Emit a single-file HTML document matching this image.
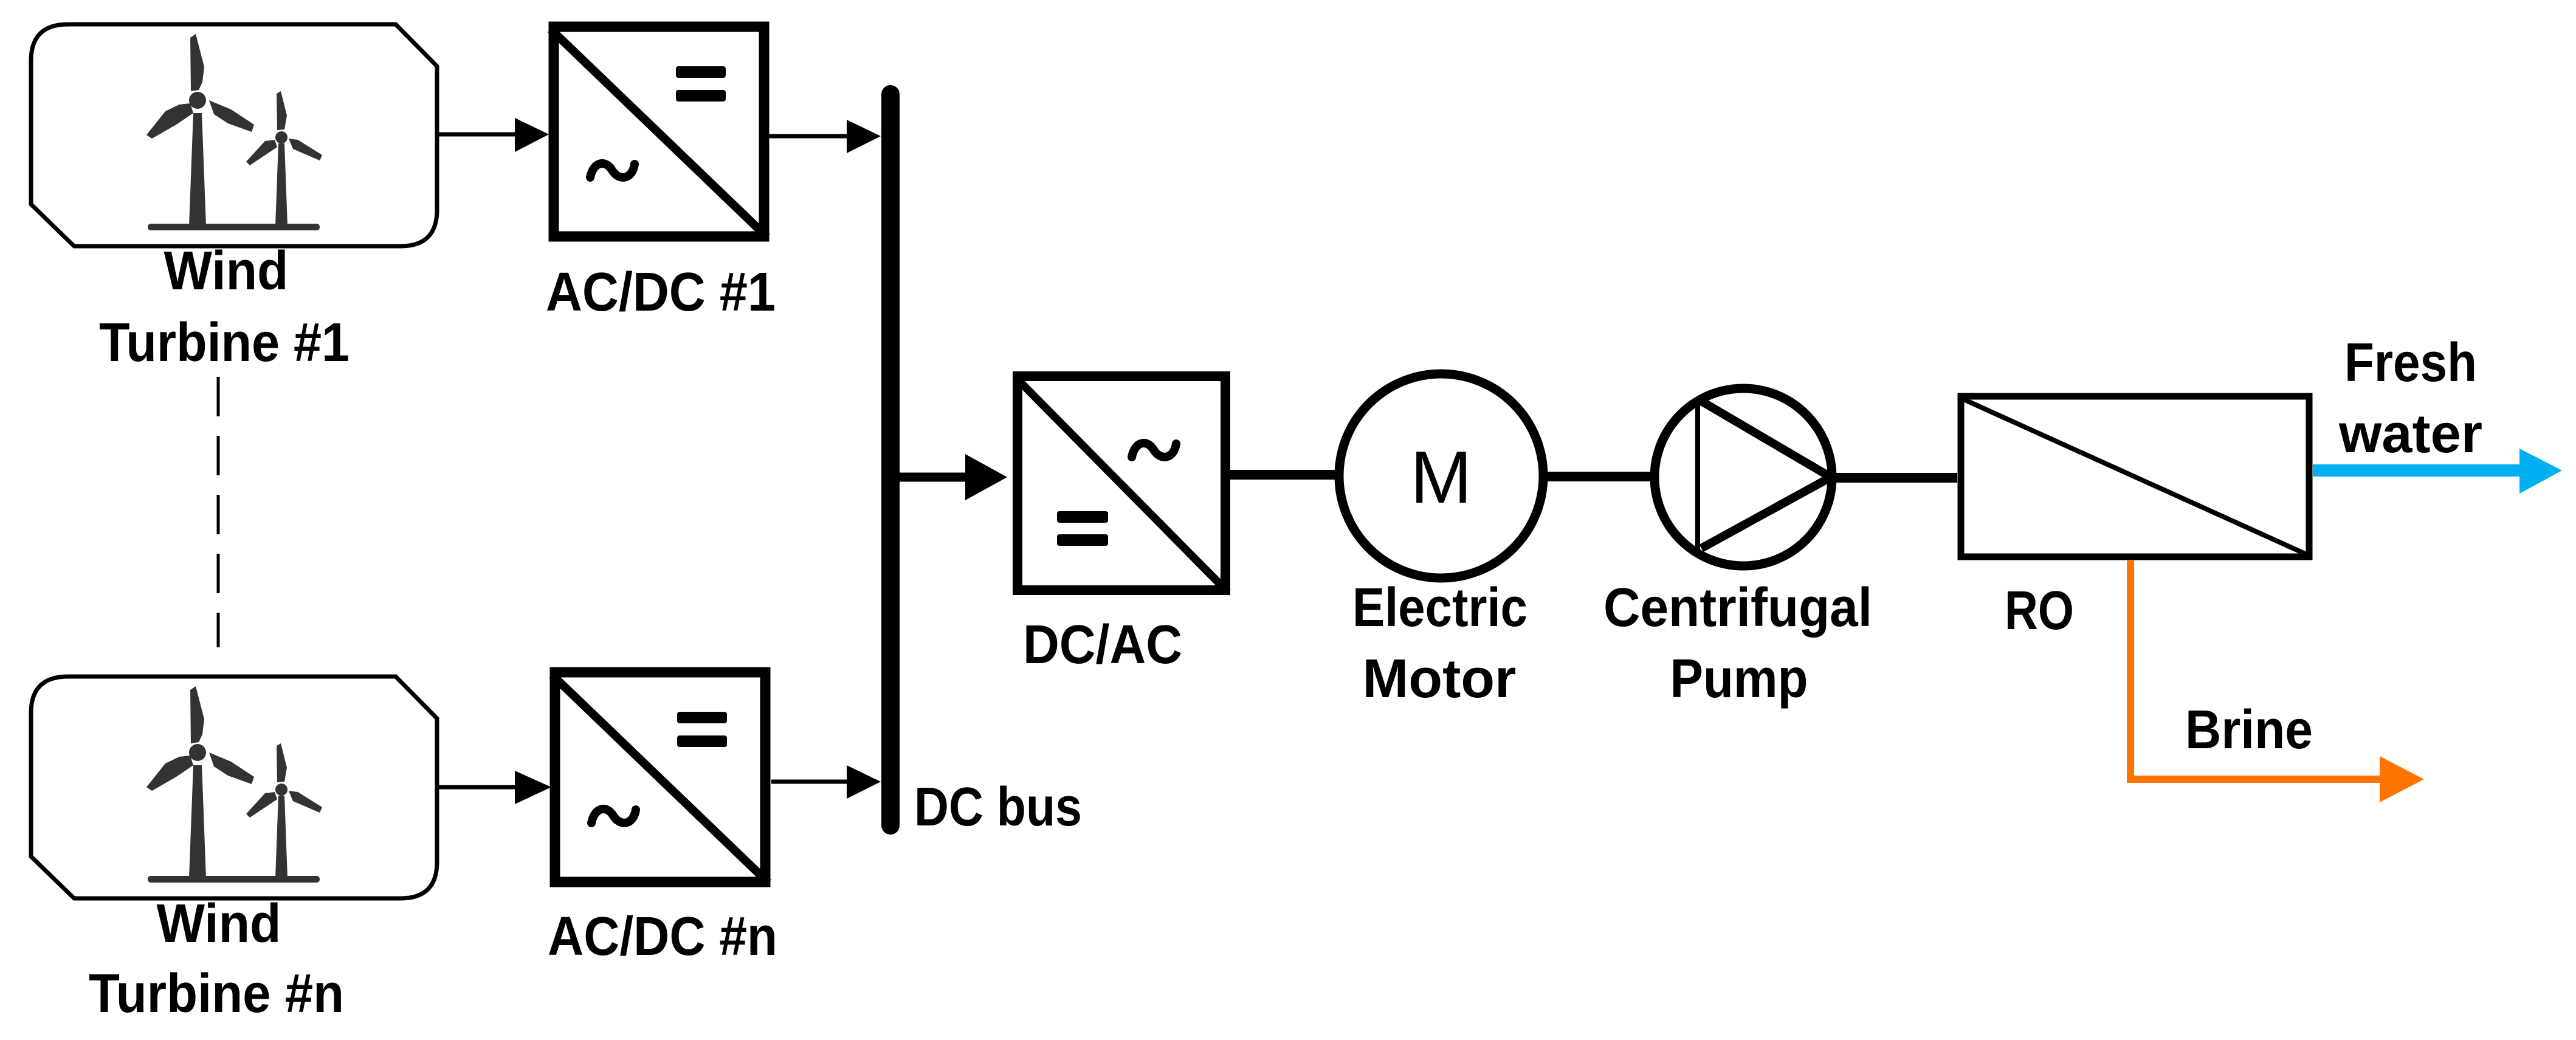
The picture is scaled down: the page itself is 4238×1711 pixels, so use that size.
<!DOCTYPE html>
<html><head><meta charset="utf-8"><style>html,body{margin:0;padding:0;background:#fff}svg{display:block}</style></head>
<body>
<svg width="4238" height="1711" viewBox="0 0 4238 1711" xmlns="http://www.w3.org/2000/svg" font-family="'Liberation Sans', sans-serif" font-weight="bold">
<defs>
<g id="wt">
<path d="M112,40 H651 L719,109 V345 Q719,405 659,405 H122 L51,336 V100 Q51,40 112,40 Z" fill="#fff" stroke="#000" stroke-width="7"/>
<g fill="#333">
<polygon points="318,186 332,186 339,372 311,372"/>
<circle cx="325" cy="165" r="14"/>
<polygon points="314,150 313,62 322,56 336,110 333,135 327,148"/>
<polygon points="313,170 295,172 272,183 241,222 250,228 290,205 318,186"/>
<polygon points="344,165 352,188 375,203 414,217 418,205 380,180"/>
<polygon points="458,236 468,236 473,372 453,372"/>
<circle cx="463" cy="226" r="10"/>
<polygon points="456,214 455,154 462,150 472,190 468,213"/>
<polygon points="452,230 436,232 405,266 411,272 456,242"/>
<polygon points="475,228 482,245 526,264 530,255 490,230"/>
<rect x="243" y="368" width="283" height="11" rx="5"/>
</g>
</g>
<g id="acdc">
<rect x="911" y="44" width="346" height="345" fill="#fff" stroke="#000" stroke-width="17"/>
<line x1="906" y1="48" x2="1262" y2="390" stroke="#000" stroke-width="14"/>
<rect x="1112" y="109" width="82" height="19" rx="4"/>
<rect x="1112" y="148" width="82" height="19" rx="4"/>
<path d="M971,292 C976,266 996,262 1007,280 C1018,298 1040,296 1044,270" fill="none" stroke="#000" stroke-width="14" stroke-linecap="round"/>
</g>
</defs>

<use href="#wt"/>
<use href="#wt" transform="translate(0,1073)"/>
<use href="#acdc"/>
<use href="#acdc" transform="translate(2,1062)"/>

<line x1="719" y1="221" x2="850" y2="221" stroke="#000" stroke-width="7"/>
<polygon points="847,194 903,221 847,250"/>
<line x1="1265" y1="224" x2="1395" y2="224" stroke="#000" stroke-width="7"/>
<polygon points="1393,197 1449,224 1393,252"/>
<line x1="719" y1="1295" x2="850" y2="1295" stroke="#000" stroke-width="7"/>
<polygon points="847,1268 907,1295 847,1323"/>
<line x1="1269" y1="1286" x2="1395" y2="1286" stroke="#000" stroke-width="7"/>
<polygon points="1393,1259 1449,1286 1393,1314"/>

<line x1="359" y1="620" x2="359" y2="1065" stroke="#000" stroke-width="5" stroke-dasharray="65,32"/>

<line x1="1465" y1="155" x2="1465" y2="1358" stroke="#000" stroke-width="30" stroke-linecap="round"/>
<line x1="1465" y1="785" x2="1610" y2="785" stroke="#000" stroke-width="15"/>
<polygon points="1588,747 1657,785 1588,823"/>

<rect x="1674" y="619" width="342" height="352" fill="#fff" stroke="#000" stroke-width="16"/>
<line x1="1672" y1="622" x2="2020" y2="974" stroke="#000" stroke-width="13"/>
<path d="M1862,752 C1867,726 1887,722 1898,740 C1909,758 1931,756 1935,730" fill="none" stroke="#000" stroke-width="14" stroke-linecap="round"/>
<rect x="1739" y="841" width="84" height="19" rx="4"/>
<rect x="1739" y="879" width="84" height="19" rx="4"/>

<line x1="2024" y1="781" x2="2200" y2="781" stroke="#000" stroke-width="16"/>
<line x1="2544" y1="784" x2="2718" y2="784" stroke="#000" stroke-width="16"/>
<line x1="3019" y1="786" x2="3220" y2="786" stroke="#000" stroke-width="16"/>

<circle cx="2371" cy="783" r="168" fill="#fff" stroke="#000" stroke-width="15"/>
<text x="2371" y="827" font-size="122" font-weight="normal" text-anchor="middle">M</text>

<circle cx="2868" cy="785" r="146" fill="#fff" stroke="#000" stroke-width="15"/>
<line x1="2793" y1="662" x2="2793" y2="906" stroke="#000" stroke-width="8"/>
<polyline points="2799,660 3012,785 2799,902" fill="none" stroke="#000" stroke-width="14"/>

<rect x="3226" y="652" width="573" height="264" fill="#fff" stroke="#000" stroke-width="11"/>
<line x1="3226" y1="655" x2="3799" y2="914" stroke="#000" stroke-width="8"/>

<line x1="3805" y1="774" x2="4150" y2="774" stroke="#00b0f0" stroke-width="20"/>
<polygon points="4145,738 4215,774 4145,812" fill="#00b0f0"/>
<polyline points="3505,921 3505,1282 3920,1282" fill="none" stroke="#ff7300" stroke-width="12"/>
<polygon points="3915,1244 3988,1282 3915,1320" fill="#ff7300"/>

<g font-size="90" text-anchor="middle">
<text x="372" y="476" textLength="205" lengthAdjust="spacingAndGlyphs">Wind</text>
<text x="369" y="594" textLength="412" lengthAdjust="spacingAndGlyphs">Turbine #1</text>
<text x="1087" y="511" textLength="378" lengthAdjust="spacingAndGlyphs">AC/DC #1</text>
<text x="360" y="1550" textLength="205" lengthAdjust="spacingAndGlyphs">Wind</text>
<text x="356" y="1665" textLength="420" lengthAdjust="spacingAndGlyphs">Turbine #n</text>
<text x="1090" y="1571" textLength="378" lengthAdjust="spacingAndGlyphs">AC/DC #n</text>
<text x="1642" y="1358" textLength="276" lengthAdjust="spacingAndGlyphs">DC bus</text>
<text x="1814" y="1091" textLength="262" lengthAdjust="spacingAndGlyphs">DC/AC</text>
<text x="2369" y="1030" textLength="288" lengthAdjust="spacingAndGlyphs">Electric</text>
<text x="2368" y="1147" textLength="253" lengthAdjust="spacingAndGlyphs">Motor</text>
<text x="2859" y="1030" textLength="442" lengthAdjust="spacingAndGlyphs">Centrifugal</text>
<text x="2861" y="1147" textLength="227" lengthAdjust="spacingAndGlyphs">Pump</text>
<text x="3355" y="1035" textLength="114" lengthAdjust="spacingAndGlyphs">RO</text>
<text x="3966" y="627" textLength="218" lengthAdjust="spacingAndGlyphs">Fresh</text>
<text x="3966" y="744" textLength="236" lengthAdjust="spacingAndGlyphs">water</text>
<text x="3700" y="1231" textLength="210" lengthAdjust="spacingAndGlyphs">Brine</text>
</g>
</svg>
</body></html>
